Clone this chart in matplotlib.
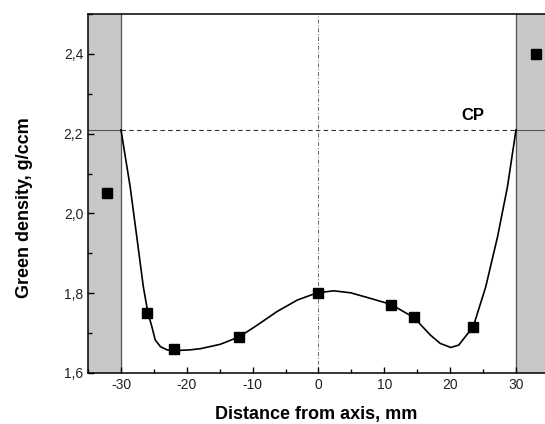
import matplotlib
matplotlib.use("Agg")
import matplotlib.pyplot as plt
from matplotlib.ticker import MultipleLocator, FuncFormatter

# measured points
pts_x = [-32.1, -26, -22, -12, 0, 11, 14.5, 23.5, 33]
pts_y = [2.05, 1.75, 1.66, 1.69, 1.80, 1.77, 1.74, 1.715, 2.40]

# smooth fit curve
curve_x = [-30, -28.6, -27.6, -26.6, -25.9, -25.3, -24.8, -24.0, -23.0, -22.0,
           -19.5, -17.9, -14.9, -12.0, -9.3, -6.3, -3.2, -0.2, 2.3, 4.9,
           7.9, 11.0, 14.5, 17.0, 18.5, 20.1, 21.3, 22.3, 23.5, 25.4,
           27.2, 28.7, 30]
curve_y = [2.21, 2.067, 1.942, 1.816, 1.751, 1.716, 1.683, 1.666, 1.658, 1.656,
           1.658, 1.661, 1.672, 1.691, 1.720, 1.754, 1.783, 1.801, 1.806, 1.801,
           1.787, 1.772, 1.739, 1.695, 1.674, 1.664, 1.670, 1.691, 1.716, 1.816,
           1.942, 2.067, 2.21]

cp_level = 2.21
wall = 30

plt.rcParams['font.family'] = ['Liberation Sans', 'DejaVu Sans']

fig = plt.figure(figsize=(5.45, 4.24), dpi=100)
ax = fig.add_axes([0.1615, 0.1203, 0.8385, 0.8467])

xmin, xmax = -35, 34.4
ymin, ymax = 1.6, 2.5

# die walls
ax.axvspan(xmin, -wall, color='#c8c8c8', zorder=0)
ax.axvspan(wall, 35, color='#c8c8c8', zorder=0)
ax.axvline(-wall, color='#555555', lw=0.9, zorder=1)
ax.axvline(wall, color='#555555', lw=0.9, zorder=1)

# CP level and axis line
ax.plot([-wall, wall], [cp_level, cp_level], color='#333333', lw=0.8, ls=(0, (4, 3)), zorder=1)
ax.plot([xmin, -wall], [cp_level, cp_level], color='#555555', lw=0.8, zorder=1)
ax.plot([wall, 35], [cp_level, cp_level], color='#555555', lw=0.8, zorder=1)
ax.axvline(0, color='#666666', lw=0.7, ls=(0, (4, 2, 1, 2)), zorder=1)

ax.plot(curve_x, curve_y, color='black', lw=1.2, zorder=2,
        solid_joinstyle='round', solid_capstyle='round')
ax.plot(pts_x, pts_y, 's', color='black', ms=7.5, zorder=3)

ax.text(23.4, 2.245, 'CP', fontsize=12, fontweight='bold', ha='center', va='center')

ax.set_xlim(xmin, xmax)
ax.set_ylim(ymin, ymax)
ax.xaxis.set_major_locator(MultipleLocator(10))
ax.xaxis.set_minor_locator(MultipleLocator(5))
ax.yaxis.set_major_locator(MultipleLocator(0.2))
ax.yaxis.set_minor_locator(MultipleLocator(0.1))
ax.xaxis.set_major_formatter(FuncFormatter(lambda v, p: f"{v:.0f}"))
ax.yaxis.set_major_formatter(FuncFormatter(lambda v, p: f"{v:.1f}".replace('.', ',')))
ax.tick_params(which='both', direction='in', top=False, right=False,
               labelsize=10, labelcolor='#222222', width=1)
ax.tick_params(which='major', length=4)
ax.tick_params(which='minor', length=3)
for s in ['left', 'bottom', 'top']:
    ax.spines[s].set_linewidth(1.1)
ax.spines['right'].set_visible(False)

ax.set_xlabel('Distance from axis, mm', fontsize=13, fontweight='bold')
ax.set_ylabel('Green density, g/ccm', fontsize=13, fontweight='bold')
ax.xaxis.set_label_coords(0.5, -0.093)
ax.yaxis.set_label_coords(-0.121, 0.462)

fig.savefig('out.png', dpi=100)
